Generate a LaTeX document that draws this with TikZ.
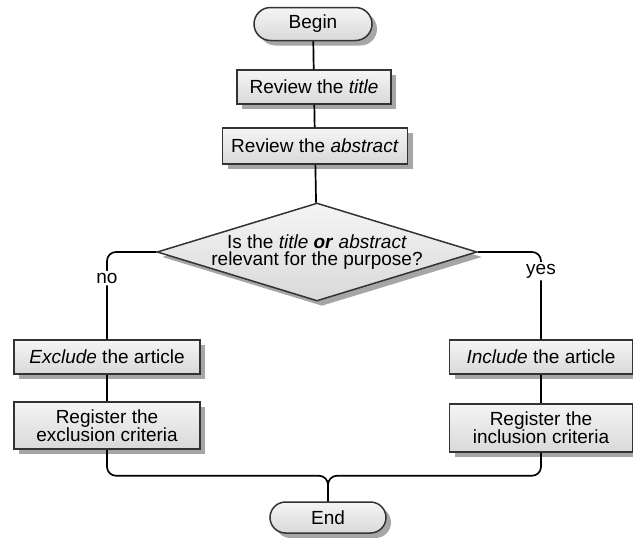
\documentclass[tikz,border=0pt]{standalone}
\usepackage{fontspec}
\setmainfont{Liberation Sans}
\usepackage{tikz}
\usetikzlibrary{shapes.geometric, shapes.misc}
\usetikzlibrary{shadows}
\usetikzlibrary{positioning}

\begin{document}
\begin{tikzpicture}[x=1pt, y=-1pt,
			box/.style={draw=black!80, line width=1.5pt, top color=gray!8, bottom color=gray!30,
				drop shadow={shadow xshift=5pt, shadow yshift=-5pt, fill=black!35, opacity=1},
				font=\fontsize{19}{17.8}\selectfont, align=center, inner sep=2pt},
			internal/.style={box, rectangle, minimum height=34pt},
			terminal/.style={box, rounded rectangle, minimum width=122pt, minimum height=33pt},
			decision/.style={box, diamond, aspect=3.4, inner sep=-2.5pt, minimum width=320pt, minimum height=98pt},
			label/.style={fill=white, inner sep=2pt, font=\fontsize{19}{19}\selectfont},
			flow/.style={line width=1.7pt, rounded corners=9pt}]
			\useasboundingbox (0,0) rectangle (633,538);
			
			\node[terminal](node1) at (313, 24) {Begin};
			\node[internal, minimum width=154pt](node2) at (314, 87) {Review the \textit{title}};
			\node[internal, minimum width=185pt, minimum height=36pt](node3) at (315, 146) {Review the \textit{abstract}};
			\draw[flow] (node1) -- (node2);
			\draw[flow] (node2) -- (node3);
			
			\node[decision](node4) at (317, 252) {Is the \textit{title} \textbf{\textit{or}} \textit{abstract}\\ relevant for the purpose?};
			\draw[flow] (node3) -- (node4);
			
			% no branch
			\node[internal, minimum width=186pt](node5) at (107, 357) {\textit{Exclude} the article};
			\node[internal, minimum width=186pt, minimum height=47pt](node6) at (107, 425.5) {Register the\\ exclusion criteria};
			\draw[flow] (node4.west) -| node[label, pos=0.65](no) {no} (node5.north);
			\draw[flow] (node5) -- (node6);
			
			% yes branch
			\node[internal, minimum width=183pt](node7) at (541, 357) {\textit{Include} the article};
			\node[internal, minimum width=183pt, minimum height=48pt](node8) at (541, 428) {Register the\\ inclusion criteria};
			\draw[flow] (node4.east) -| node[label, pos=0.61](yes) {yes} (node7.north);
			\draw[flow] (node7) -- (node8);
			
			\node[terminal, minimum width=120pt, minimum height=31pt](node9) at (328, 517.5) {End};
			\draw[flow] (node6.south) -- ++(0, 26) -| (node9.north);
			\draw[flow] (node8.south) -- ++(0, 23) -| (node9.north);
			\end{tikzpicture}
\end{document}
